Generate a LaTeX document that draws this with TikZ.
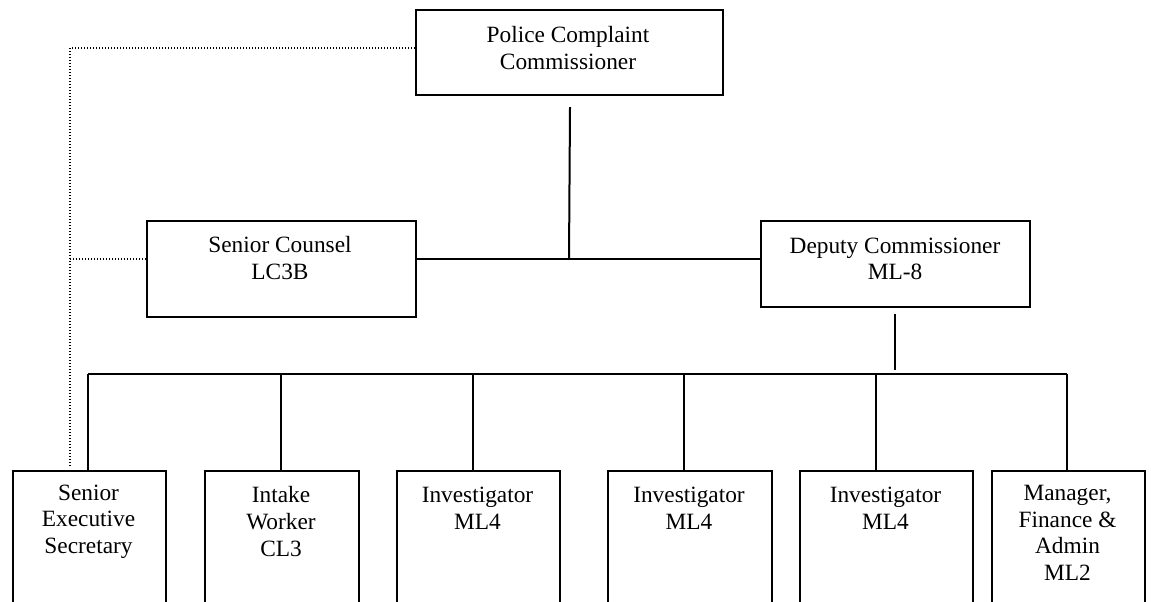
\documentclass[tikz,border=0pt]{standalone}
\usepackage{fontspec}
\setmainfont{Liberation Serif}
\usetikzlibrary{calc}
\begin{document}
\begin{tikzpicture}[x=0.75pt,y=-0.75pt,
  box/.style={draw, line width=1.5pt, rectangle, inner sep=0pt, anchor=north west},
  lbl/.style={align=center, font=\fontsize{17.5}{19.9}\selectfont, inner sep=0pt},
  conn/.style={line width=1.5pt},
  dotline/.style={line width=1pt, dash pattern=on 1pt off 1.25pt}]
\useasboundingbox (0,0) rectangle (1151,601);
\clip (0,0) rectangle (1151,601);
% upper boxes
\node[box, minimum width=230.25pt, minimum height=63.75pt] (pcc) at (415,9) {};
\node[lbl] (pccT) at (568,48) {Police Complaint\\Commissioner};
\node[box, minimum width=201.75pt, minimum height=72pt] (scn) at (146,220) {};
\node[lbl] (scnT) at (280,258) {Senior Counsel\\LC3B};
\node[box, minimum width=201.75pt, minimum height=64.5pt] (dep) at (760,220) {};
\node[lbl] (depT) at (895,259) {Deputy Commissioner\\ML-8};
% lower boxes (run past the lower edge)
\node[box, minimum width=114.75pt, minimum height=112.5pt] (ses) at (12,470) {};
\node[lbl] (sesT) at (88.5,521.5) {Senior\\Executive\\Secretary};
\node[box, minimum width=115.5pt, minimum height=112.5pt] (itw) at (204,470) {};
\node[lbl] (itwT) at (281,521.5) {Intake\\Worker\\CL3};
\node[box, minimum width=122.25pt, minimum height=112.5pt] (inva) at (396,470) {};
\node[lbl] (invaT) at (477.5,508.5) {Investigator\\ML4};
\node[box, minimum width=123pt, minimum height=112.5pt] (invb) at (607,470) {};
\node[lbl] (invbT) at (689,508.5) {Investigator\\ML4};
\node[box, minimum width=129.75pt, minimum height=112.5pt] (invc) at (799,470) {};
\node[lbl] (invcT) at (885.5,508.5) {Investigator\\ML4};
\node[box, minimum width=114.75pt, minimum height=112.5pt] (mgr) at (991,470) {};
\node[lbl] (mgrT) at (1067.5,533) {Manager,\\Finance \&\\Admin\\ML2};
% junction points
\coordinate (jmid) at (569,259);
\coordinate (b1) at (88,374);
\coordinate (b2) at (281,374);
\coordinate (b3) at (473,374);
\coordinate (b4) at (684,374);
\coordinate (b5) at (876,374);
\coordinate (b6) at (1067,374);
\coordinate (bdep) at (895,374);
% solid connectors
\draw[conn] ($(pcc.south)+(0.5,11)$) -- (jmid);
\draw[conn] (scn.east |- jmid) -- (dep.west |- jmid);
\draw[conn] ($(dep.south -| bdep)+(0,6)$) -- ($(bdep)+(0,-4)$);
\draw[conn] (b1) -- (b6);
\draw[conn] (b1) -- (b1 |- ses.north);
\draw[conn] (b2) -- (b2 |- itw.north);
\draw[conn] (b3) -- (b3 |- inva.north);
\draw[conn] (b4) -- (b4 |- invb.north);
\draw[conn] (b5) -- (b5 |- invc.north);
\draw[conn] (b6) -- (b6 |- mgr.north);
% dotted connectors
\coordinate (dc) at (70,48);
\coordinate (de) at (70,467);
\draw[dotline] (pcc.west |- dc) -- (dc) -- (de);
\draw[dotline] (scn.west |- jmid) -- (dc |- jmid);
\end{tikzpicture}
\end{document}
